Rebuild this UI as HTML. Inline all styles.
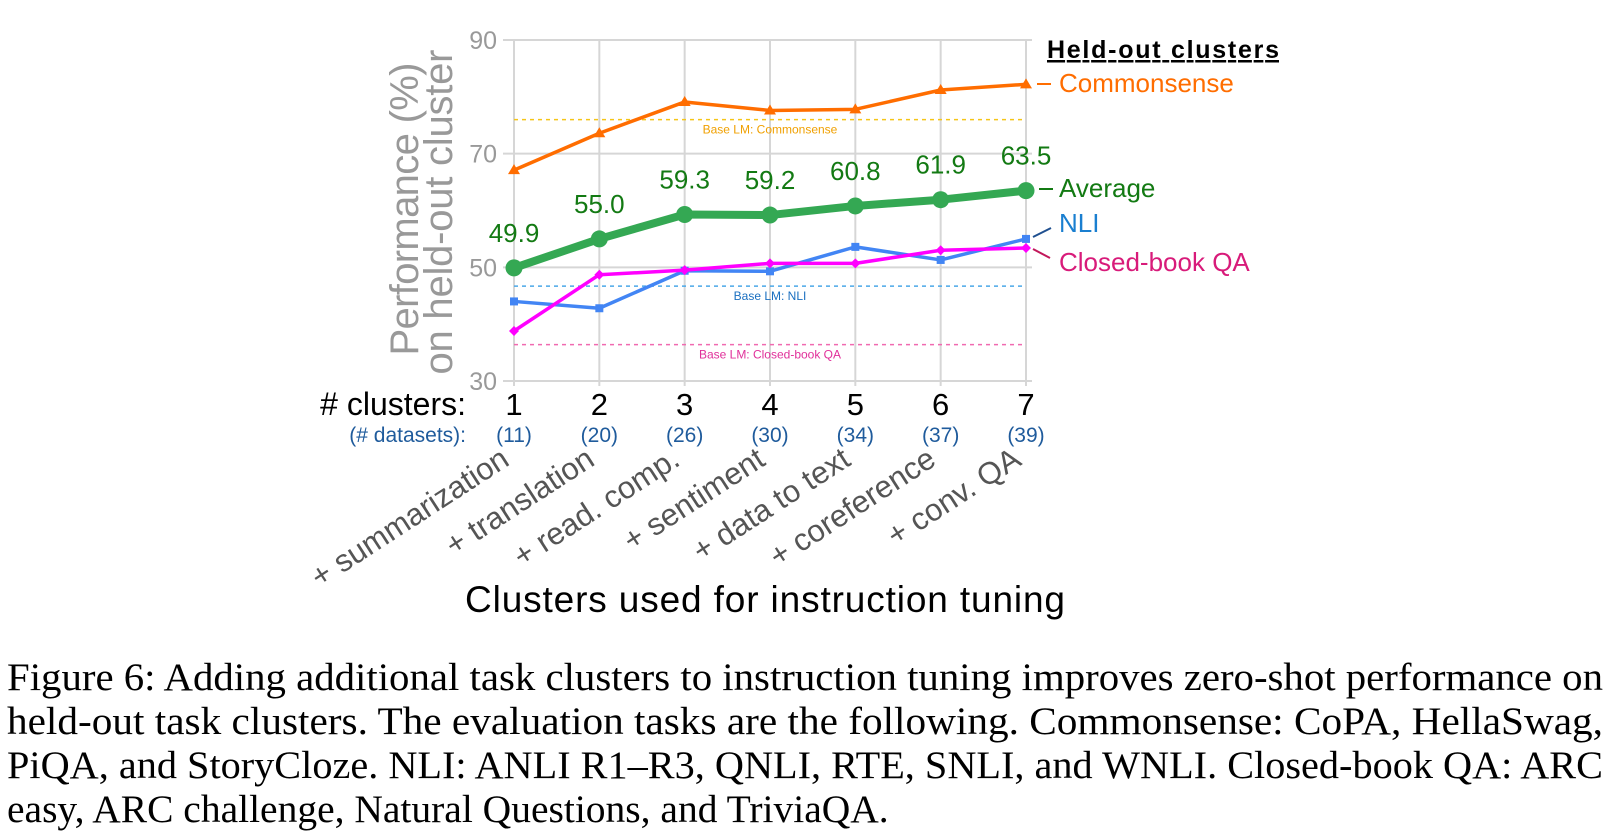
<!DOCTYPE html>
<html><head><meta charset="utf-8"><style>
body{margin:0;background:#fff;width:1610px;height:837px;overflow:hidden}
svg{position:absolute;left:0;top:0}
text{font-family:"Liberation Sans",sans-serif}
.cap{font-family:"Liberation Serif",serif;font-size:39.5px;fill:#000}
</style></head><body>
<svg width="1610" height="837">
<g id="chart"></g>
<g>
<text class="cap" x="7" y="690" textLength="1596" lengthAdjust="spacingAndGlyphs">Figure 6: Adding additional task clusters to instruction tuning improves zero-shot performance on</text>
<text class="cap" x="7" y="734" textLength="1596" lengthAdjust="spacingAndGlyphs">held-out task clusters. The evaluation tasks are the following. Commonsense: CoPA, HellaSwag,</text>
<text class="cap" x="7" y="778" textLength="1596" lengthAdjust="spacingAndGlyphs">PiQA, and StoryCloze. NLI: ANLI R1–R3, QNLI, RTE, SNLI, and WNLI. Closed-book QA: ARC</text>
<text class="cap" x="7" y="822">easy, ARC challenge, Natural Questions, and TriviaQA.</text>
</g>
</svg>
<script>
const clusters=[1,2,3,4,5,6,7];
const datasets=["(11)","(20)","(26)","(30)","(34)","(37)","(39)"];
const addedClusters=["+ summarization","+ translation","+ read. comp.","+ sentiment","+ data to text","+ coreference","+ conv. QA"];
const yTicks=[30,50,70,90];
const commonsense=[67.1,73.6,79.1,77.6,77.8,81.2,82.2];
const average=[49.9,55.0,59.3,59.2,60.8,61.9,63.5];
const nli=[44.0,42.8,49.4,49.3,53.6,51.3,55.0];
const closedBookQA=[38.8,48.7,49.5,50.7,50.7,53.0,53.4];
const baseCommonsense=76.0, baseNLI=46.7, baseCBQA=36.4;

const NS="http://www.w3.org/2000/svg";
const g=document.getElementById('chart');
const X=i=>514+(1026-514)*i/6;
const Y=v=>381-(v-30)*(381-40)/60;
function el(t,a,p){const e=document.createElementNS(NS,t);for(const k in a)e.setAttribute(k,a[k]);(p||g).appendChild(e);return e;}
function txt(s,a){const e=el('text',a);e.textContent=s;return e;}

yTicks.forEach(v=>{
 const l=el('line',{x1:503,x2:1032,y1:Y(v),y2:Y(v),stroke:'#d6d6d6','stroke-width':2});
 
 const t=txt(String(v),{x:497,y:Y(v)+9,'text-anchor':'end','font-size':25,fill:'#999'});
 
});
clusters.forEach((c,i)=>{
 const l=el('line',{x1:X(i),x2:X(i),y1:40,y2:386,stroke:'#d6d6d6','stroke-width':2});
 
 const t=txt(String(c),{x:X(i),y:415,'text-anchor':'middle','font-size':31,fill:'#000'});
 
 const d=txt(datasets[i],{x:X(i),y:442,'text-anchor':'middle','font-size':21,fill:'#1f5b9c'});
 
 const r=txt(addedClusters[i],{x:0,y:0,'text-anchor':'end','font-size':31,fill:'#555',transform:`translate(${X(i)-3},464) rotate(-33)`});
 
});
let t;
t=txt('# clusters:',{x:466,y:415,'text-anchor':'end','font-size':32,fill:'#000'});

t=txt('(# datasets):',{x:466,y:442,'text-anchor':'end','font-size':21,fill:'#1f5b9c'});

t=txt('Clusters used for instruction tuning',{x:465,y:612,'font-size':37,fill:'#000',textLength:600});

t=txt('Performance (%)',{x:0,y:0,'text-anchor':'middle','font-size':40,fill:'#999',transform:'translate(418,209) rotate(-90)',textLength:293});

t=txt('on held-out cluster',{x:0,y:0,'text-anchor':'middle','font-size':40,fill:'#999',transform:'translate(452,212) rotate(-90)',textLength:325});


[[baseCommonsense,'#f5c518','#f0a000','Base LM: Commonsense','baseline-commonsense'],
 [baseNLI,'#4aa8e8','#1a6fc0','Base LM: NLI','baseline-nli'],
 [baseCBQA,'#f06ab0','#e0309a','Base LM: Closed-book QA','baseline-cbqa']].forEach(b=>{
 const l=el('line',{x1:X(0),x2:X(6),y1:Y(b[0]),y2:Y(b[0]),stroke:b[1],'stroke-width':1.5,'stroke-dasharray':'4,4'});
 
 const tt=txt(b[3],{x:X(3),y:Y(b[0])+14,'text-anchor':'middle','font-size':12,fill:b[2]});
 
});

function series(vals,color,w,name,marker){
 const p=el('polyline',{points:vals.map((v,i)=>X(i)+','+Y(v)).join(' '),fill:'none',stroke:color,'stroke-width':w,'stroke-linejoin':'round'});
 
 vals.forEach((v,i)=>{let m;const x=X(i),y=Y(v);
  if(marker==='tri')m=el('polygon',{points:`${x},${y-6} ${x-6},${y+4} ${x+6},${y+4}`,fill:color});
  else if(marker==='circle')m=el('circle',{cx:x,cy:y,r:8.5,fill:color});
  else if(marker==='square')m=el('rect',{x:x-4,y:y-4,width:8,height:8,fill:color});
  else m=el('polygon',{points:`${x},${y-5} ${x+5},${y} ${x},${y+5} ${x-5},${y}`,fill:color});
  
 });
}
series(commonsense,'#ff6d00',3.5,'commonsense','tri');
series(nli,'#4285f4',3.5,'nli','square');
series(closedBookQA,'#ff00ff',3.5,'closed-book-qa','diamond');
series(average,'#34a853',8,'average','circle');
average.forEach((v,i)=>{
 const tt=txt(v.toFixed(1),{x:X(i),y:Y(v)-26,'text-anchor':'middle','font-size':26,fill:'#137a13'});
 
});

t=txt('Held-out clusters',{x:1047,y:58,'font-size':25,'font-weight':'bold',fill:'#000','text-decoration':'underline',textLength:232});

[['Commonsense','#ff6d00',92,'legend-commonsense'],['Average','#137a13',197,'legend-average'],
 ['NLI','#1a7fd0',232,'legend-nli'],['Closed-book QA','#d81b7a',271,'legend-cbqa']].forEach(L=>{
 const tt=txt(L[0],{x:1059,y:L[2],'font-size':26,fill:L[1]});
 
});
[[1037,84,1051,84,'#ff6d00'],[1039,189,1053,189,'#137a13'],[1033,237,1051,228,'#1f4f8f'],[1033,249,1050,258,'#c2185b']].forEach((c,k)=>{
 const l=el('line',{x1:c[0],y1:c[1],x2:c[2],y2:c[3],stroke:c[4],'stroke-width':2});
 
});
</script>
</body></html>
